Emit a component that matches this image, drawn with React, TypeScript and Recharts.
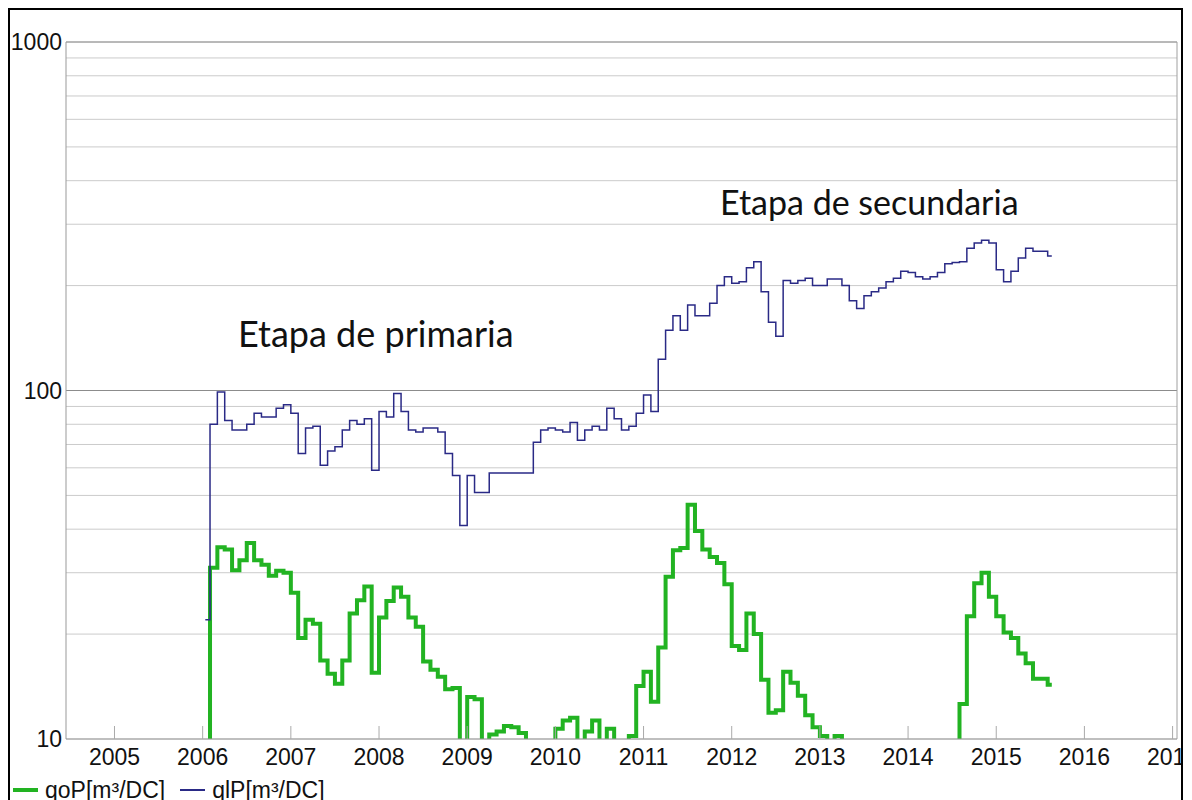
import { LineChart, Line, XAxis, YAxis, CartesianGrid, ReferenceLine, Legend } from "recharts";

// first record (before the monthly series starts) and last record date
const firstDate = 2006.03;
const firstQlP = 22;
const firstQoP = 8; // below the axis floor, not visible
const lastDate = 2015.63;

// monthly values from Feb 2006
const qlP = [
  80, 99, 82, 77, 77, 80, 86, 84, 84, 89, 91, 86,
  66, 78, 79, 61, 67, 69, 77, 82, 80, 83, 59, 87,
  84, 98, 87, 77, 76, 78, 78, 76, 66, 57, 41, 57,
  51, 51, 58, 58, 58, 58, 58, 58, 71, 77, 78, 77,
  76, 81, 72, 77, 79, 77, 89, 83, 77, 79, 86, 97,
  87, 123, 149, 164, 149, 176, 164, 164, 178, 200, 212, 203,
  205, 225, 234, 192, 157, 143, 207, 203, 207, 210, 200, 200,
  209, 209, 200, 181, 172, 187, 192, 197, 205, 210, 220, 218,
  212, 209, 212, 218, 231, 233, 234, 256, 265, 270, 265, 222,
  205, 220, 240, 256, 251, 251, 243,
];

// values under 10 fall below the axis floor
const qoP = [
  31, 35.5, 35, 30.5, 32.6, 36.5, 32.6, 31.6, 29.4, 30.4, 30, 26.3,
  19.5, 22, 21.4, 16.8, 15.4, 14.4, 16.8, 22.9, 25, 27.4, 15.5, 22.3,
  24.9, 27.2, 25.6, 22.3, 21, 16.7, 15.8, 15.1, 13.9, 14, 8, 13.2,
  13, 8, 10.3, 10.5, 10.9, 10.8, 10.4, 8, 8, 8, 8, 10.7,
  11.3, 11.5, 8, 10.5, 11.3, 8, 10.7, 8, 8, 10.2, 14.2, 15.6,
  12.8, 18.3, 29.2, 34.8, 35.3, 47, 39.5, 35, 33.3, 32, 27.8, 18.5,
  18, 22.9, 20, 14.8, 11.9, 12.1, 15.6, 14.5, 13.3, 11.7, 10.8, 10.2,
  8, 10.2, 8, 8, 8, 8, 8, 8, 8, 8, 8, 8,
  8, 8, 8, 8, 8, 8, 12.6, 22.5, 28, 30, 25.6, 22.5,
  20.2, 19.5, 17.6, 16.5, 14.9, 14.9, 14.3,
];

const yearTicks = [2005, 2006, 2007, 2008, 2009, 2010, 2011, 2012, 2013, 2014, 2015, 2016, 2017];
const logTicks = [10, 20, 30, 40, 50, 60, 70, 80, 90, 100, 200, 300, 400, 500, 600, 700, 800, 900, 1000];
const labelTicks = [10, 100, 1000];

const seriesNames = { qoP: "qoP[m³/DC]", qlP: "qlP[m³/DC]" };
const GREEN = "#22b322";
const BLUE = "#2a2a86";

const data = [
  { t: firstDate, qoP: firstQoP, qlP: firstQlP },
  ...qlP.map((v, i) => ({ t: 2006 + (i + 1) / 12, qlP: v, qoP: qoP[i] })),
  { t: lastDate, qlP: qlP[qlP.length - 1], qoP: qoP[qoP.length - 1] },
];

const axisFont = { fill: "#111", fontSize: 23, fontFamily: "Liberation Sans, Arial, sans-serif" };

function LegendBox() {
  const item = (color: string, width: number, label: string) => (
    <div style={{ display: "flex", alignItems: "center", marginRight: 15 }}>
      <div style={{ width: 25, height: width, background: color, marginRight: 7 }} />
      <span>{label}</span>
    </div>
  );
  return (
    <div
      style={{
        display: "flex",
        alignItems: "center",
        height: 28,
        fontSize: 23,
        fontFamily: "Liberation Sans, Arial, sans-serif",
        color: "#111",
      }}
    >
      {item(GREEN, 4, seriesNames.qoP)}
      {item(BLUE, 1.5, seriesNames.qlP)}
    </div>
  );
}

export default function App() {
  return (
    <div
      style={{
        position: "relative",
        width: 1171,
        height: 800,
        border: "2px solid #000",
        overflow: "hidden",
        background: "#fff",
      }}
    >
      <LineChart width={1171} height={800} data={data} margin={{ top: 32, right: 4, bottom: 0, left: 0 }}>
        <CartesianGrid vertical={false} stroke="#cbcbcb" />
        <XAxis
          dataKey="t"
          type="number"
          domain={[2004.45, 2017.05]}
          allowDataOverflow
          ticks={yearTicks}
          interval={0}
          tickSize={-13}
          tickMargin={23}
          tickLine={{ stroke: "#aaa" }}
          axisLine={{ stroke: "#999" }}
          tick={axisFont}
          height={71}
        />
        <YAxis
          scale="log"
          domain={[10, 1000]}
          allowDataOverflow
          ticks={logTicks}
          interval={0}
          tickFormatter={(v: number) => (labelTicks.includes(v) ? String(v) : "")}
          tickLine={false}
          tickSize={0}
          tickMargin={4}
          axisLine={{ stroke: "#999" }}
          tick={axisFont}
          width={56}
        />
        <ReferenceLine y={100} stroke="#8c8c8c" />
        <ReferenceLine y={1000} stroke="#8c8c8c" />
        <ReferenceLine x={2017.05} stroke="#a0a0a0" />
        <Line
          type="stepAfter"
          dataKey="qoP"
          name={seriesNames.qoP}
          stroke={GREEN}
          strokeWidth={4}
          dot={false}
          isAnimationActive={false}
        />
        <Line
          type="stepAfter"
          dataKey="qlP"
          name={seriesNames.qlP}
          stroke={BLUE}
          strokeWidth={1.5}
          dot={false}
          isAnimationActive={false}
        />
        <Legend
          layout="horizontal"
          verticalAlign="middle"
          align="center"
          content={() => <LegendBox />}
          wrapperStyle={{ left: 3, top: 766, width: 420, height: 28 }}
        />
        <text x={228} y={337} fontSize={36} fontFamily="Lato, sans-serif" fill="#111">
          Etapa de primaria
        </text>
        <text x={710} y={205} fontSize={34} fontFamily="Lato, sans-serif" fill="#111">
          Etapa de secundaria
        </text>
      </LineChart>
    </div>
  );
}
